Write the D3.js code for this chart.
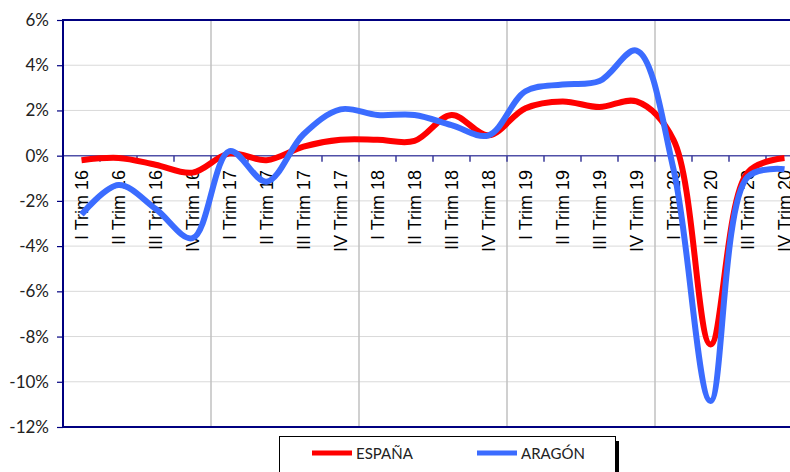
<!DOCTYPE html>
<html>
<head>
<meta charset="utf-8">
<script src="https://cdn.jsdelivr.net/npm/d3@7"></script>
<style>
  body { margin: 0; background: #fff; }
  svg { display: block; }
</style>
</head>
<body>
<div id="chart"></div>
<script>
// datos (variación %)
const categories = [
    "I Trim 16", "II Trim 16", "III Trim 16", "IV Trim 16",
    "I Trim 17", "II Trim 17", "III Trim 17", "IV Trim 17",
    "I Trim 18", "II Trim 18", "III Trim 18", "IV Trim 18",
    "I Trim 19", "II Trim 19", "III Trim 19", "IV Trim 19",
    "I Trim 20", "II Trim 20", "III Trim 20", "IV Trim 20"
];
const espana = [-0.2, -0.1, -0.4, -0.75, 0.1, -0.2, 0.4, 0.7, 0.7, 0.65, 1.8, 0.9,
    2.1, 2.4, 2.15, 2.4, 0.7, -8.35, -0.75, -0.1];
const aragon = [-2.6, -1.3, -2.35, -3.65, 0.2, -1.15, 0.95, 2.05, 1.8, 1.8, 1.35, 0.9,
    2.85, 3.15, 3.3, 4.65, -0.6, -10.85, -0.95, -0.6];
const yTicks = [-12, -10, -8, -6, -4, -2, 0, 2, 4, 6];
const seriesNames = ["ESPAÑA", "ARAGÓN"];

const W = 790, H = 472;
const plot = { left: 63, top: 20, bottom: 427, step: 37 };
const navy = "#000080";
const colors = { "ESPAÑA": "#ff0000", "ARAGÓN": "#3b6cff" };

const svg = d3.select("#chart").append("svg")
    .attr("width", W)
    .attr("height", H);

const x = d3.scaleBand()
    .domain(categories)
    .range([plot.left, plot.left + plot.step * categories.length])
    .paddingInner(0).paddingOuter(0);
const y = d3.scaleLinear().domain([-12, 6]).range([plot.bottom, plot.top]);
const cx = d => x(d) + x.bandwidth() / 2;

// rejilla horizontal
svg.append("g")
    .selectAll("line")
    .data(yTicks.filter(t => t !== 6 && t !== -12 && t !== 0))
    .join("line")
    .attr("x1", plot.left).attr("x2", W)
    .attr("y1", d => y(d)).attr("y2", d => y(d))
    .attr("stroke", "#d9d9d9").attr("stroke-width", 1);

// rejilla vertical cada 4 trimestres
svg.append("g")
    .selectAll("line")
    .data(categories.filter((d, i) => i > 0 && i % 4 === 0))
    .join("line")
    .attr("x1", d => x(d)).attr("x2", d => x(d))
    .attr("y1", plot.top).attr("y2", plot.bottom)
    .attr("stroke", "#c0c0c0").attr("stroke-width", 1.5);

// etiquetas de categoría (giradas)
svg.append("g")
    .selectAll("text")
    .data(categories)
    .join("text")
    .attr("transform", d => `translate(${cx(d)},170) rotate(-90)`)
    .attr("text-anchor", "end")
    .attr("dy", "0.36em")
    .style("font-family", "'Liberation Sans', Arial, sans-serif")
    .style("font-size", "18px")
    .style("fill", "#000")
    .text(d => d);

// eje de categorías en 0%
svg.append("line")
    .attr("x1", plot.left).attr("x2", W)
    .attr("y1", y(0)).attr("y2", y(0))
    .attr("stroke", "#5050a8").attr("stroke-width", 1.5);
svg.append("g")
    .selectAll("line")
    .data(categories.slice(1))
    .join("line")
    .attr("x1", d => x(d)).attr("x2", d => x(d))
    .attr("y1", y(0)).attr("y2", y(0) + 6)
    .attr("stroke", "#3a3a9a").attr("stroke-width", 1.5);

// eje Y
const yAxis = d3.axisLeft(y)
    .tickValues(yTicks)
    .tickSize(6)
    .tickPadding(8)
    .tickFormat(d => d + "%");
const gy = svg.append("g")
    .attr("transform", `translate(${plot.left},0)`)
    .call(yAxis);
gy.select(".domain").remove();
gy.selectAll(".tick line").attr("stroke", navy).attr("stroke-width", 1.2);
gy.selectAll(".tick text")
    .style("font-family", "Lato, sans-serif")
    .style("font-size", "17px")
    .style("fill", "#222");

// marco del área de trazado
svg.append("line").attr("x1", plot.left).attr("x2", W)
    .attr("y1", plot.top).attr("y2", plot.top)
    .attr("stroke", navy).attr("stroke-width", 2);
svg.append("line").attr("x1", plot.left).attr("x2", W)
    .attr("y1", plot.bottom).attr("y2", plot.bottom)
    .attr("stroke", navy).attr("stroke-width", 2);
svg.append("line").attr("x1", plot.left).attr("x2", plot.left)
    .attr("y1", plot.top - 1).attr("y2", plot.bottom + 1)
    .attr("stroke", navy).attr("stroke-width", 2);

// series suavizadas
const line = d3.line()
    .x((d, i) => cx(categories[i]))
    .y(d => y(d))
    .curve(d3.curveCatmullRom.alpha(0.5));

[[seriesNames[0], espana], [seriesNames[1], aragon]].forEach(([name, values]) => {
    svg.append("path")
        .datum(values)
        .attr("d", line)
        .attr("fill", "none")
        .attr("stroke", colors[name])
        .attr("stroke-width", 6)
        .attr("stroke-linejoin", "round");
});

// leyenda
const legend = svg.append("g");
legend.append("rect")
    .attr("x", 615).attr("y", 441).attr("width", 4).attr("height", 40)
    .attr("fill", "#000");
legend.append("rect")
    .attr("x", 279.5).attr("y", 436.5).attr("width", 336).attr("height", 45)
    .attr("fill", "#fff").attr("stroke", "#000").attr("stroke-width", 1);

const legendItems = [
    { name: seriesNames[0], x: 312 },
    { name: seriesNames[1], x: 477 }
];
legendItems.forEach(item => {
    legend.append("line")
        .attr("x1", item.x).attr("x2", item.x + 40)
        .attr("y1", 453).attr("y2", 453)
        .attr("stroke", colors[item.name]).attr("stroke-width", 5);
    legend.append("text")
        .attr("x", item.x + 44).attr("y", 459)
        .style("font-family", "Lato, sans-serif")
        .style("font-size", "15px")
        .style("fill", "#222")
        .text(item.name);
});
</script>
</body>
</html>
